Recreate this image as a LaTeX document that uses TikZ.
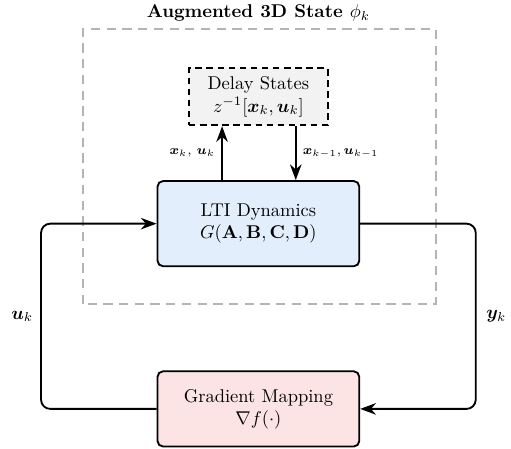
\documentclass[tikz,border=0pt]{standalone}
\usepackage{amsmath}
\usepackage{bm}
\usepackage{xcolor}
\usetikzlibrary{arrows.meta,positioning}
\definecolor{ltiblue}{RGB}{227,238,252}
\definecolor{gradpink}{RGB}{252,228,228}
\definecolor{delaygray}{RGB}{242,242,242}
\definecolor{framegray}{RGB}{180,180,180}

\begin{document}
\begin{tikzpicture}[
    block/.style={rectangle,rounded corners=3pt,draw=black,line width=1pt,
      text width=3.6cm,minimum width=3.82cm,align=center,font=\normalsize},
    delaybox/.style={rectangle,draw=black,fill=delaygray,line width=1pt,
      dash pattern=on 3.5pt off 2.5pt,
      minimum width=2.64cm,minimum height=1.08cm,align=center},
    arrow/.style={-{Stealth[length=3mm,width=2.2mm]},line width=1pt},
    loop/.style={arrow,rounded corners=5pt}
  ]
    \useasboundingbox (-4.91,-4.27) rectangle (4.80,4.25);

    % augmented state frame
    \draw[framegray,line width=1pt,dash pattern=on 5pt off 3.5pt]
      (-3.33,-1.53) rectangle (3.37,3.70);
    \node[font=\bfseries] (title) at (0,4.0) {Augmented 3D State $\phi_k$};

    \node[block,fill=ltiblue,minimum height=1.62cm] (lti) at (0,0)
      {LTI Dynamics\\$G(\mathbf{A},\mathbf{B},\mathbf{C},\mathbf{D})$};
    \node[delaybox] (delay) at (0,2.41)
      {Delay States\\$z^{-1}[\bm{x}_k,\bm{u}_k]$};
    \node[block,fill=gradpink,minimum height=1.43cm] (grad) at (0,-3.52)
      {Gradient Mapping\\$\nabla f(\cdot)$};

    % delay feedback
    \draw[arrow] (lti.north -| -0.69,0) -- (delay.south -| -0.69,0)
      node[midway,left=0pt,font=\scriptsize] (xin) {$\bm{x}_k,\,\bm{u}_k$};
    \draw[arrow] (delay.south -| 0.71,0) -- (lti.north -| 0.71,0)
      node[midway,right=0pt,font=\scriptsize] (xout) {$\bm{x}_{k-1},\bm{u}_{k-1}$};

    % outer loop
    \coordinate (rtop) at (4.13,0);
    \coordinate (rbot) at (4.13,-3.52);
    \coordinate (ltop) at (-4.13,0);
    \coordinate (lbot) at (-4.13,-3.52);
    \draw[loop] (lti.east) -- (rtop) -- (rbot) -- (grad.east);
    \draw[loop] (grad.west) -- (lbot) -- (ltop) -- (lti.west);

    \node (yk) at (4.52,-1.76) {$\bm{y}_k$};
    \node (uk) at (-4.49,-1.76) {$\bm{u}_k$};
  \end{tikzpicture}
\end{document}
